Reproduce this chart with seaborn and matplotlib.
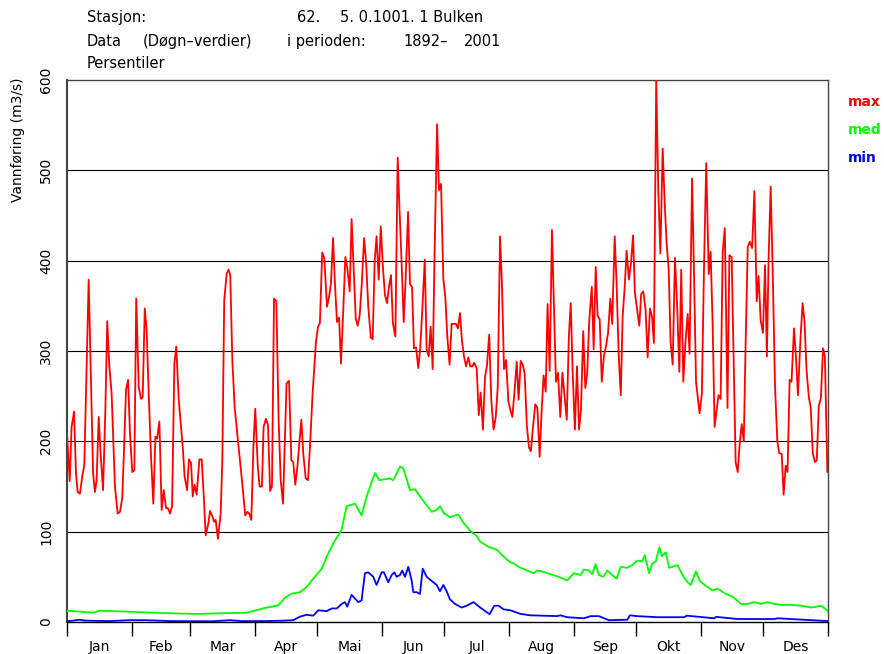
import numpy as np
import pandas as pd
import seaborn as sns
import matplotlib
matplotlib.use("Agg")
import matplotlib.pyplot as plt

# Data (day of year, m3/s)

max_days = [0, 1.3, 2.2, 3.4, 4.3, 5.1, 6.2, 7.3, 8.3, 10.4, 12.5, 13.4, 14.2, 15.2, 16.1, 17.3, 18.4, 19.3, 20.3, 21.4,
            23, 24.3, 25.4, 26.5, 27.5, 28.3, 29.3, 30.2, 31.3, 32.3, 33.2, 34.4, 35.5, 36.3, 37.3, 38.2, 39.3, 40.3, 41.4, 42.4,
            43.2, 44.3, 45.4, 46.4, 47.5, 48.4, 49.4, 50.4, 51.5, 52.4, 53.6, 55.5, 56.4, 57.6, 58.5, 59.5,
            60.3, 61.2, 62.2, 63.5, 64.6, 65.7, 66.5, 67.8, 68.6, 69.7, 70.5, 71.3, 72.4, 73.7, 74.5, 75.4, 76.6, 77.5, 78.3,
            79.3, 80.4, 82.3, 84.2, 85.5, 86.5, 87.4, 88.4, 89.4, 90.3, 91.5, 92.4, 93.5, 94.3, 95.4, 96.4, 97.4, 98.3, 99.3,
            100.4, 101.5, 102.5, 103.6, 104.4, 105.3, 106.5, 107.6, 108.5, 109.5, 110.5, 111.4, 112.4, 113.3, 114.5, 115.6,
            116.7, 117.8, 119.4, 120.4, 121.3,
            122.4, 123.4, 124.7, 125.7, 126.6, 127.6, 128.5, 129.5, 130.5, 131.4, 132.5, 133.5, 134.4, 135.6, 136.5, 137.5,
            138.5, 139.4, 140.4, 141.4, 142.5, 143.5, 144.5, 145.7, 146.6, 147.6, 148.5, 149.5, 150.5, 151.6, 152.5, 153.5,
            154.4, 155.4, 156.3, 157.5, 158.6, 159.5, 160.5, 161.5, 162.4, 163.6, 164.5, 165.5, 166.4, 167.4, 168.5, 169.4,
            170.4, 171.6, 172.5, 173.5, 174.4, 175.4, 176.3, 177.5, 178.4, 179.4, 180.5, 181.5,
            182.4, 183.5, 184.5, 185.6, 186.6, 187.5, 188.5, 189.4, 190.4, 191.4, 192.5, 193.4, 194.4, 195.3, 196.5, 197.5,
            198.4, 199.5, 200.5, 201.4, 202.5, 203.5, 204.6, 205.6, 206.6, 207.7, 208.6, 209.6, 210.6, 211.7, 212.6, 213.6,
            214.7, 215.7, 216.6, 217.6, 218.6, 219.5, 220.6, 221.6, 222.5, 223.5, 224.6, 225.6, 226.7, 227.6, 228.6, 229.6,
            230.5, 231.5, 232.6, 233.6, 234.5, 235.5, 236.6, 237.6, 238.7, 239.7,
            240.7, 241.6, 242.5, 243.6, 244.6, 245.6, 246.5, 247.6, 248.6, 249.5, 250.5, 251.7, 252.6, 253.6, 254.5, 255.5,
            256.5, 257.6, 258.5, 259.5, 260.6, 261.5, 262.7, 263.6, 264.6, 265.6, 266.5, 267.5, 268.4, 269.5, 270.5, 271.5,
            272.4, 273.5, 274.5, 275.4, 276.4, 277.5, 278.5, 279.6, 280.6, 281.5, 282.6, 283.6, 284.6, 285.7, 286.7, 287.6,
            288.6, 289.5, 290.5, 291.6, 292.6, 293.7, 294.6, 295.6, 296.7, 297.7, 298.6, 299.8, 300.7, 301.7, 303.4,
            304.5, 305.5, 306.6, 307.8, 308.7, 309.7, 310.6, 311.6, 312.5, 313.5, 314.5, 315.5, 316.8, 317.7, 318.8, 319.8,
            320.7, 321.7, 322.6, 323.6, 324.6, 325.5, 326.5, 327.5, 328.6, 329.7, 330.8, 331.7, 332.7, 333.8, 334.8, 335.7,
            336.5, 337.5, 338.5, 339.6, 340.7, 341.6, 342.8, 343.7, 344.7, 345.6, 346.6, 347.5, 348.7, 349.6, 350.6, 351.7,
            352.8, 353.7, 354.7, 355.8, 356.7, 357.7, 358.7, 359.6, 360.6, 361.6, 362.6, 363.5, 364.7]
max_vals = [209, 156, 216, 233, 165, 144, 142, 161, 174, 379, 165, 144, 157, 227, 187, 146, 235, 333, 283, 253,
            150, 120, 122, 137, 201, 257, 268, 209, 166, 168, 358, 260, 247, 249, 347, 323, 246, 183, 131, 205,
            203, 222, 124, 146, 126, 126, 120, 128, 286, 305, 246, 194, 161, 146, 180, 176,
            139, 152, 141, 180, 180, 135, 96, 109, 123, 117, 111, 113, 92, 120, 179, 356, 386, 390, 384,
            290, 238, 194, 150, 118, 122, 120, 113, 194, 236, 172, 150, 150, 216, 225, 218, 145, 150, 358,
            355, 224, 157, 131, 194, 264, 267, 179, 177, 152, 172, 196, 224, 187, 159, 157,
            201, 253, 310, 327, 331,
            409, 403, 349, 360, 375, 425, 375, 332, 337, 286, 345, 404, 393, 366, 446, 390,
            336, 328, 340, 375, 425, 397, 349, 315, 313, 401, 427, 379, 438, 390, 362, 353,
            371, 384, 331, 316, 514, 456, 397, 332, 379, 454, 374, 371, 303, 304, 281, 303,
            345, 401, 301, 294, 327, 280, 408, 551, 478, 485, 380, 358,
            316, 285, 330, 330, 330, 325, 342, 312, 294, 283, 293, 283, 283, 287, 281, 229,
            254, 213, 272, 283, 318, 246, 213, 226, 260, 427, 375, 280, 290, 244, 235, 227,
            257, 288, 246, 289, 285, 275, 216, 193, 189, 216, 241, 237, 183, 231, 273, 255,
            352, 278, 434, 345, 266, 276, 227, 276, 249, 224,
            316, 353, 279, 213, 283, 213, 235, 322, 259, 275, 334, 371, 302, 393, 339, 335,
            266, 296, 305, 320, 358, 330, 427, 375, 297, 251, 338, 371, 411, 379, 397, 428,
            364, 345, 328, 363, 366, 346, 293, 347, 338, 309, 600, 478, 408, 524, 463, 419,
            390, 310, 285, 403, 353, 277, 390, 266, 312, 341, 297, 491, 390, 266, 231,
            253, 390, 508, 385, 410, 327, 216, 235, 251, 247, 410, 436, 237, 406, 404, 286,
            177, 166, 196, 219, 200, 309, 415, 421, 414, 477, 355, 383, 334, 320, 395, 294,
            401, 482, 386, 260, 200, 187, 186, 141, 173, 166, 268, 266, 325, 294, 251, 309,
            353, 334, 279, 249, 238, 187, 177, 179, 239, 248, 303, 294, 166]

med_days = [0, 12.6, 15.8, 28.6, 44.6, 62.2, 71.8, 86.2, 91, 95.8, 101.4, 104.6, 107.8, 111.8, 115, 118.1, 122.2,
            124.5, 127.7, 131.7, 134.1, 138.1, 141.3, 143.7, 147.7, 149.8, 154.9, 156.5, 159.7, 161.3, 164.5, 166.9,
            169.3, 174.9, 177.3, 178.9, 180.5, 183.7, 187.7, 190.1, 193.4, 196.6, 198.2, 202.2, 206.2, 208.6, 212.6,
            214.2, 216.6, 219.8, 223.8, 225.4, 227.8, 231.8, 235.9, 239.9, 243.1, 246.3, 247.9, 250.3, 251.9, 253.5,
            255.1, 257.2, 259.1, 261.5, 263.6, 265.5, 268.7, 271.1, 273.5, 275.9, 277.1, 279.2, 280.8, 282.4, 284.1,
            285.3, 287.2, 288.8, 292.8, 295.2, 297.6, 299.2, 301.6, 303.7, 306.4, 309.6, 312.1, 315.3, 319.3, 323.3,
            326.5, 329.7, 332.9, 336.1, 339.3, 342.5, 347.3, 352.2, 357, 361.8, 365]
med_vals = [12.5, 10.3, 12.5, 11.5, 10, 8.9, 9.6, 10.3, 13.3, 16, 18.5, 27, 31.4, 33, 39, 48, 59,
            72, 87, 102, 128, 131, 118, 139, 165, 157, 159, 157, 172, 170, 146, 147,
            139, 122, 124, 128, 121, 116, 119, 110, 101, 95, 89, 83, 80, 74, 66,
            65, 61, 58, 54, 57, 56, 53, 50, 46, 54, 52, 58, 57, 53, 64,
            52, 50, 57, 52, 48, 61, 60, 63, 68, 67, 74, 54, 65, 67, 83,
            73, 77, 60, 63, 52, 44, 41, 56, 45, 40, 35, 37, 32, 28, 20,
            20, 22, 20, 22, 20, 19, 19, 18, 16, 18, 12]

min_days = [0, 3, 6, 9, 20, 30, 38, 50, 70, 78, 84, 95, 104, 108.5, 111.8, 115, 118.1, 120.5, 124.5, 127, 129.4,
            131.7, 133.3, 134.4, 136.5, 138.1, 139.7, 141.3, 142.9, 144.5, 146.9, 148.5, 150.9, 152, 154.1, 155.7,
            157, 158.1, 159.7, 160.8, 162.1, 163.7, 165.3, 166.1, 167.7, 169.3, 170.6, 172.5, 175.7, 177.3, 178.9,
            180.5, 182.1, 183.7, 186.1, 189.3, 191.7, 195, 198.2, 202.7, 204.9, 207, 209.4, 212.6, 217.4, 222.2,
            235, 236.6, 239.9, 247.9, 251.1, 255.1, 259.9, 268.7, 270, 273.5, 283.2, 296, 297.3, 310.5, 311.3,
            321.7, 339.3, 340.9, 365]
min_vals = [1, 1.5, 2.5, 1.5, 1, 2, 2, 1, 0.8, 2, 1, 1, 1.5, 2, 6, 8, 7, 13, 12, 15, 15,
            20, 22, 17, 30, 26, 22, 24, 54, 55, 50, 41, 55, 55, 44, 52,
            55, 50, 52, 57, 50, 61, 46, 33, 33, 31, 59, 50, 44, 41, 34,
            41, 34, 25, 20, 16, 18, 22, 16, 8.6, 18, 18, 14, 13, 9, 7.4,
            6.5, 7.4, 5.3, 4.1, 6.5, 6.5, 2, 2.5, 7.4, 6.5, 5.3, 5.3, 7, 4.1, 5.7,
            3.3, 3.3, 4.1, 1]

months = ["Jan", "Feb", "Mar", "Apr", "Mai", "Jun", "Jul", "Aug", "Sep", "Okt", "Nov", "Des"]
month_starts = [0, 31, 59, 90, 120, 151, 181, 212, 243, 273, 304, 334, 365]
y_ticks = [0, 100, 200, 300, 400, 500, 600]

series_names = ["max", "med", "min"]
series_colors = ["#ff0000", "#00ff00", "#0000ff"]

# Figure

sns.set_style("white")
plt.rcParams["font.family"] = ["DejaVu Sans"]
plt.rcParams["text.color"] = "black"
plt.rcParams["xtick.color"] = "black"
plt.rcParams["ytick.color"] = "black"

W, H = 884, 654
fig = plt.figure(figsize=(W / 100, H / 100), dpi=100)
ax = fig.add_axes([67 / W, 1 - 622 / H, (828 - 67) / W, (622 - 80) / H])

for yv in y_ticks[1:-1]:
    ax.axhline(yv, color="black", lw=0.8, zorder=1)

for days, vals, col in zip([max_days, med_days, min_days],
                           [max_vals, med_vals, min_vals],
                           series_colors):
    sns.lineplot(x=days, y=vals, ax=ax, color=col, lw=1.3,
                 estimator=None, sort=False, zorder=3)

ax.set_xlim(0, 365)
ax.set_ylim(0, 600)

# x axis: ticks at month borders, names in the middle
ax.set_xticks(month_starts)
ax.set_xticklabels([])
mids = [(a + b) / 2 for a, b in zip(month_starts[:-1], month_starts[1:])]
ax.set_xticks(mids, minor=True)
ax.set_xticklabels(months, minor=True, fontsize=10)
ax.tick_params(axis="x", which="major", direction="out", length=10, width=1, color="black", bottom=True)
ax.tick_params(axis="x", which="minor", length=0, pad=13, bottom=True)

ax.set_yticks(y_ticks)
ax.set_yticklabels([str(v) for v in y_ticks], rotation=90, va="center", fontsize=10)
ax.tick_params(axis="y", length=0, pad=10)

ax.set_xlabel("")
ax.set_ylabel("")
for side in ["left", "right", "top", "bottom"]:
    ax.spines[side].set_visible(True)
    ax.spines[side].set_color("#444444")
    ax.spines[side].set_linewidth(1.0)
ax.spines["left"].set_linewidth(1.5)
ax.spines["bottom"].set_color("black")

fig.text(18 / W, 1 - 140 / H, "Vannføring (m3/s)", rotation=90, ha="center", va="center", fontsize=10)

# Header text
def put(x, y, s):
    fig.text(x / W, 1 - y / H, s, ha="left", va="baseline", fontsize=10.5)

put(87, 22, "Stasjon:")
put(297, 22, "62.")
put(340, 22, "5. 0.1001. 1 Bulken")
put(87, 46, "Data")
put(143, 46, "(Døgn–verdier)")
put(287, 46, "i perioden:")
put(403, 46, "1892–")
put(464, 46, "2001")
put(87, 68, "Persentiler")

# Series names on the right
for i, (name, col) in enumerate(zip(series_names, series_colors)):
    fig.text(848 / W, 1 - (102 + 28 * i) / H, name, color=col, ha="left", va="center",
             fontsize=10, fontweight="bold")

fig.savefig("out.png", dpi=100)
